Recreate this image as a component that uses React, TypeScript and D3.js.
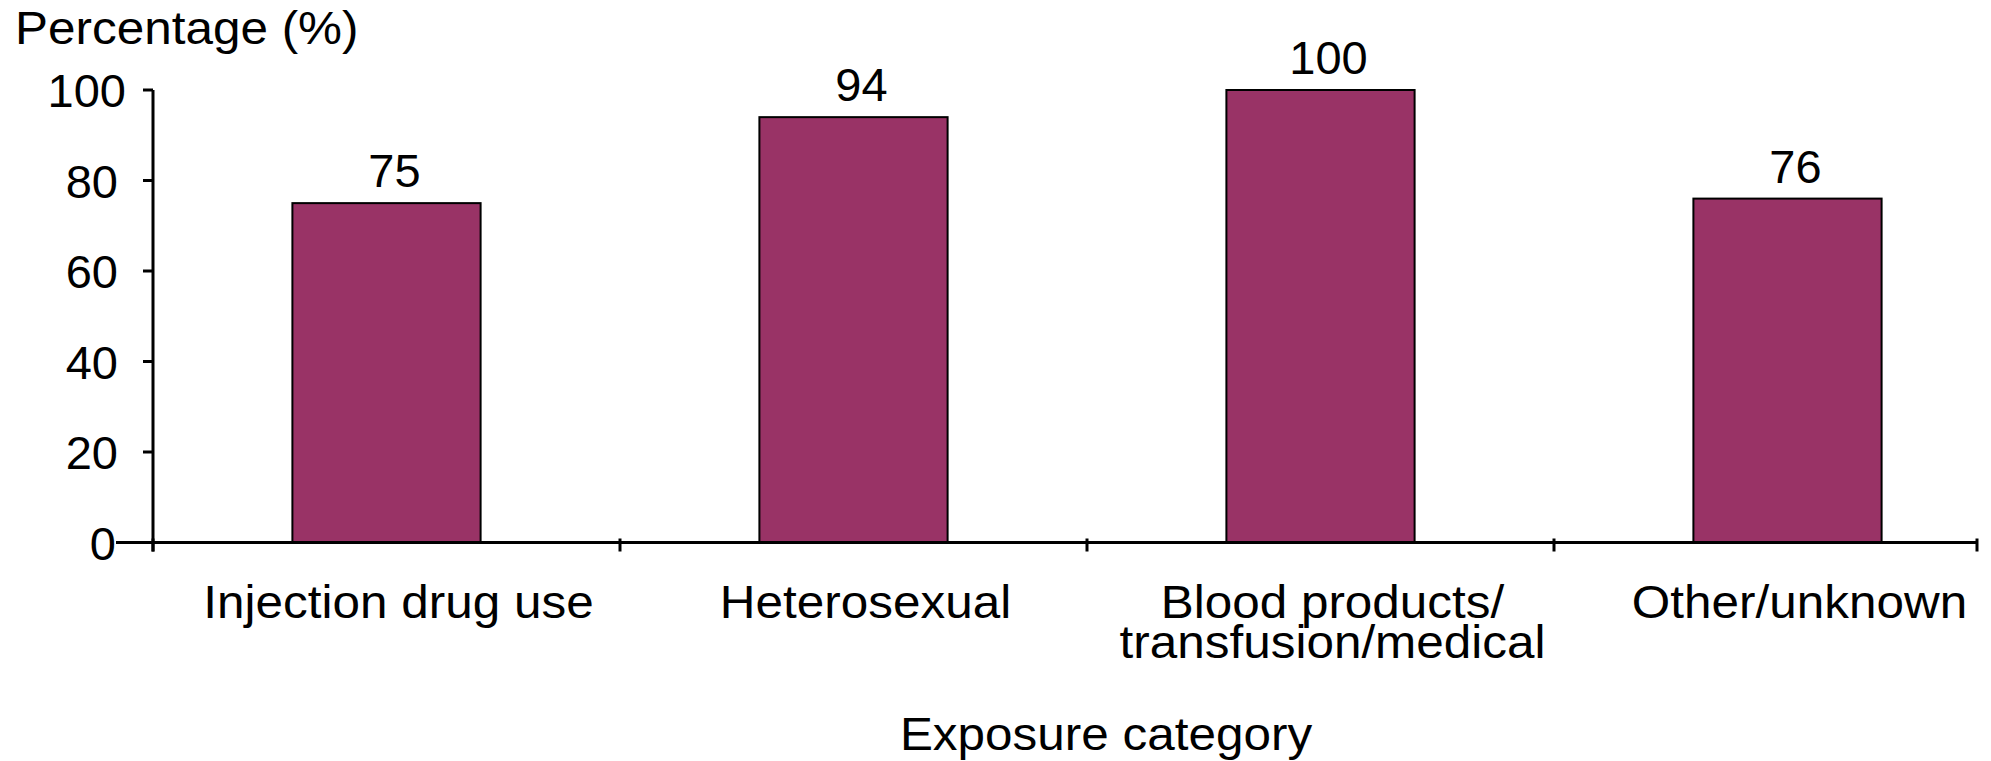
import React from "react";
import * as d3 from "d3";

const categories: string[][] = [
  ["Injection drug use"],
  ["Heterosexual"],
  ["Blood products/", "transfusion/medical"],
  ["Other/unknown"],
];
const values: number[] = [75, 94, 100, 76];
const yTicks: number[] = [0, 20, 40, 60, 80, 100];
const yTitle = "Percentage (%)";
const xTitle = "Exposure category";

const W = 1991;
const H = 761;
const FONT = "'Liberation Sans', Arial, Helvetica, sans-serif";
const SX = 1.075;
const TFS = 46;

function WideText(props: { x: number; y: number; anchor?: string; lines: string[]; dy?: number }) {
  const { x, y, anchor = "start", lines, dy = 40 } = props;
  return (
    <g transform={`translate(${x},${y}) scale(${SX},1)`}>
      <text x={0} y={0} fontSize={TFS} textAnchor={anchor} fill="#000">
        {lines.map((l, j) => (
          <tspan key={j} x={0} dy={j === 0 ? 0 : dy}>
            {l}
          </tspan>
        ))}
      </text>
    </g>
  );
}

export default function App() {
  const x0 = 153;
  const y = d3.scaleLinear().domain([0, 100]).range([542.5, 90]);
  const keys = categories.map((c, i) => String(i));
  const x = d3
    .scaleBand<string>()
    .domain(keys)
    .range([x0, x0 + 467 * 4])
    .paddingInner(0.597)
    .paddingOuter(0.2985);
  const step = x.step();
  const axisRight = 1977;
  const catTicks = d3.range(0, 5).map((i) => Math.min(x0 + i * step, axisRight));

  return (
    <svg
      width={W}
      height={H}
      style={{ position: "absolute", left: 0, top: 0, background: "#fff" }}
      fontFamily={FONT}
    >
      {/* y title */}
      <WideText x={15} y={44} lines={[yTitle]} />

      {/* bars */}
      {values.map((v, i) => (
        <g key={i}>
          <rect
            x={x(keys[i])}
            y={y(v)}
            width={x.bandwidth()}
            height={y(0) - y(v)}
            fill="#993366"
            stroke="#000"
            strokeWidth={2}
          />
          <text
            x={(x(keys[i]) as number) + x.bandwidth() / 2 + 8}
            y={y(v) - 16}
            fontSize={47}
            textAnchor="middle"
            fill="#000"
          >
            {v}
          </text>
        </g>
      ))}

      {/* y axis */}
      <line x1={x0} x2={x0} y1={y(100)} y2={y(0) + 9} stroke="#000" strokeWidth={3} />
      {yTicks.map((t) => (
        <g key={t}>
          <line x1={x0 - 10} x2={x0} y1={y(t)} y2={y(t)} stroke="#000" strokeWidth={3} />
          <text
            x={t === 0 ? 116 : t === 100 ? 126 : 118}
            y={y(t) + 5}
            fontSize={47}
            textAnchor="end"
            dominantBaseline="middle"
            fill="#000"
          >
            {t}
          </text>
        </g>
      ))}

      {/* x axis */}
      <line x1={116} x2={axisRight} y1={y(0)} y2={y(0)} stroke="#000" strokeWidth={3} />
      {catTicks.map((cx, i) => (
        <line key={i} x1={cx} x2={cx} y1={y(0) - 4} y2={y(0) + 9} stroke="#000" strokeWidth={3} />
      ))}

      {/* category labels */}
      {categories.map((lines, i) => (
        <WideText
          key={i}
          x={(x(keys[i]) as number) + x.bandwidth() / 2 + 12}
          y={618}
          anchor="middle"
          lines={lines}
          dy={40}
        />
      ))}

      {/* x title */}
      <WideText x={1106} y={750} anchor="middle" lines={[xTitle]} />
    </svg>
  );
}
